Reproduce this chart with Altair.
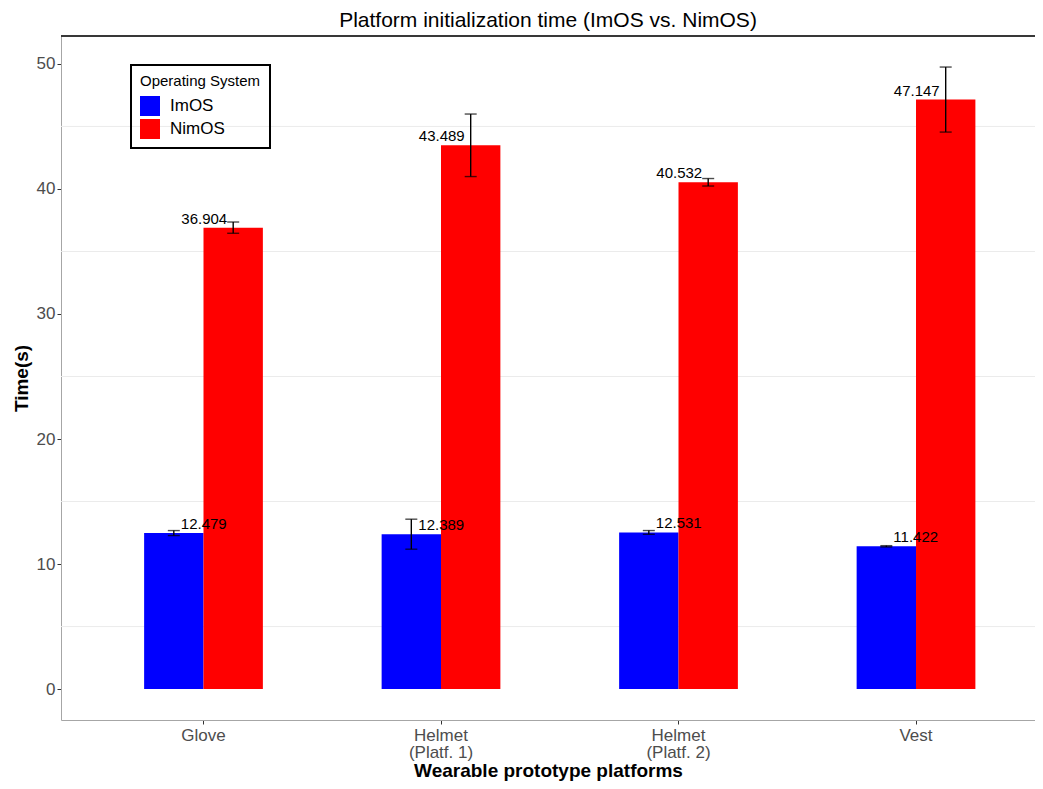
import altair as alt
import pandas as pd

platforms = ["Glove", "Helmet\n(Platf. 1)", "Helmet\n(Platf. 2)", "Vest"]
os_names = ["ImOS", "NimOS"]
imos_time = [12.479, 12.389, 12.531, 11.422]
nimos_time = [36.904, 43.489, 40.532, 47.147]
imos_err = [0.2, 1.2, 0.15, 0.05]
nimos_err = [0.45, 2.5, 0.3, 2.6]
y_ticks = [0, 10, 20, 30, 40, 50]
minor_grid = [5, 15, 25, 35, 45]

rows = []
for p, t, e in zip(platforms, imos_time, imos_err):
    rows.append({"platform": p, "os": "ImOS", "time": t, "lo": t - e, "hi": t + e})
for p, t, e in zip(platforms, nimos_time, nimos_err):
    rows.append({"platform": p, "os": "NimOS", "time": t, "lo": t - e, "hi": t + e})
df = pd.DataFrame(rows)
grid_df = pd.DataFrame({"g": minor_grid})

FONT = "Liberation Sans"
W, H = 974, 684

x_enc = alt.X(
    "platform:N",
    sort=platforms,
    scale=alt.Scale(paddingInner=0, paddingOuter=0.0505, align=0.99),
    axis=alt.Axis(
        title="Wearable prototype platforms",
        labelExpr="split(datum.label, '\\n')",
        labelAngle=0,
        labelFontSize=17,
        labelColor="#4d4d4d",
        labelLineHeight=17,
        labelPadding=3,
        tickSize=4,
        tickColor="#333333",
        domainColor="#a6a6a6",
        titleFontSize=19,
        titleFontWeight="bold",
        titleColor="black",
        titlePadding=1,
        grid=False,
    ),
)
xo_enc = alt.XOffset("os:N", sort=os_names, scale=alt.Scale(paddingInner=0, paddingOuter=1.0))
y_scale = alt.Scale(domain=[-2.47, 52.23], nice=False, zero=False)
y_enc = alt.Y(
    "time:Q",
    scale=y_scale,
    axis=alt.Axis(
        title="Time(s)",
        values=y_ticks,
        labelFontSize=17,
        labelColor="#4d4d4d",
        labelPadding=2,
        tickSize=4,
        tickColor="#333333",
        domainColor="#a6a6a6",
        titleFontSize=19,
        titleFontWeight="bold",
        titleColor="black",
        titlePadding=5,
        grid=False,
    ),
)

grid = alt.Chart(grid_df).mark_rule(color="#ebebeb", strokeWidth=1).encode(
    y=alt.Y("g:Q", scale=y_scale)
)

base = alt.Chart(df)

bars = base.mark_bar().encode(
    x=x_enc,
    xOffset=xo_enc,
    y=y_enc,
    color=alt.Color(
        "os:N",
        sort=os_names,
        scale=alt.Scale(domain=os_names, range=["#0000ff", "#ff0000"]),
        legend=alt.Legend(
            title="Operating System",
            orient="none",
            legendX=70,
            legendY=29,
            titleFontSize=15,
            titleFontWeight="normal",
            titleColor="black",
            titlePadding=7,
            labelFontSize=17,
            labelColor="black",
            labelOffset=10,
            symbolType="square",
            symbolSize=400,
            symbolStrokeWidth=0,
            symbolOpacity=1,
            rowPadding=3,
            padding=9,
            strokeColor="black",
        ),
    ),
)

err = base.mark_rule(color="black", strokeWidth=1.4).encode(
    x=alt.X("platform:N", sort=platforms),
    xOffset=alt.XOffset("os:N", sort=os_names),
    y=alt.Y("lo:Q", scale=y_scale),
    y2="hi:Q",
)
cap_lo = base.mark_tick(color="black", size=12, thickness=1.4, orient="horizontal").encode(
    x=alt.X("platform:N", sort=platforms),
    xOffset=alt.XOffset("os:N", sort=os_names),
    y=alt.Y("lo:Q", scale=y_scale),
)
cap_hi = base.mark_tick(color="black", size=12, thickness=1.4, orient="horizontal").encode(
    x=alt.X("platform:N", sort=platforms),
    xOffset=alt.XOffset("os:N", sort=os_names),
    y=alt.Y("hi:Q", scale=y_scale),
)

txt_im = base.transform_filter(alt.datum.os == "ImOS").mark_text(
    align="left", baseline="alphabetic", dx=7, dy=-4, fontSize=15, font=FONT, color="black"
).encode(
    x=alt.X("platform:N", sort=platforms),
    xOffset=alt.XOffset("os:N", sort=os_names),
    y=alt.Y("time:Q", scale=y_scale),
    text=alt.Text("time:Q", format=".3f"),
)
txt_nim = base.transform_filter(alt.datum.os == "NimOS").mark_text(
    align="right", baseline="alphabetic", dx=-6, dy=-4, fontSize=15, font=FONT, color="black"
).encode(
    x=alt.X("platform:N", sort=platforms),
    xOffset=alt.XOffset("os:N", sort=os_names),
    y=alt.Y("time:Q", scale=y_scale),
    text=alt.Text("time:Q", format=".3f"),
)

top_border = alt.Chart(grid_df).mark_rule(color="#333333", strokeWidth=1).encode(
    x=alt.value(0), x2=alt.value(W), y=alt.value(0)
)

chart = (
    alt.layer(grid, bars, err, cap_lo, cap_hi, txt_im, txt_nim, top_border)
    .properties(
        width=W,
        height=H,
        title=alt.TitleParams(
            "Platform initialization time (ImOS vs. NimOS)",
            fontSize=21,
            fontWeight="normal",
            color="black",
            font=FONT,
            anchor="middle",
            offset=5,
        ),
        autosize=alt.AutoSizeParams(type="none"),
        padding={"left": 53, "top": 28, "right": 0, "bottom": 62},
    )
    .configure(font=FONT)
    .configure_view(stroke=None)
    .configure_legend(strokeWidth=2)
)

chart.save("out.html", embed_options={"renderer": "svg", "actions": False})
